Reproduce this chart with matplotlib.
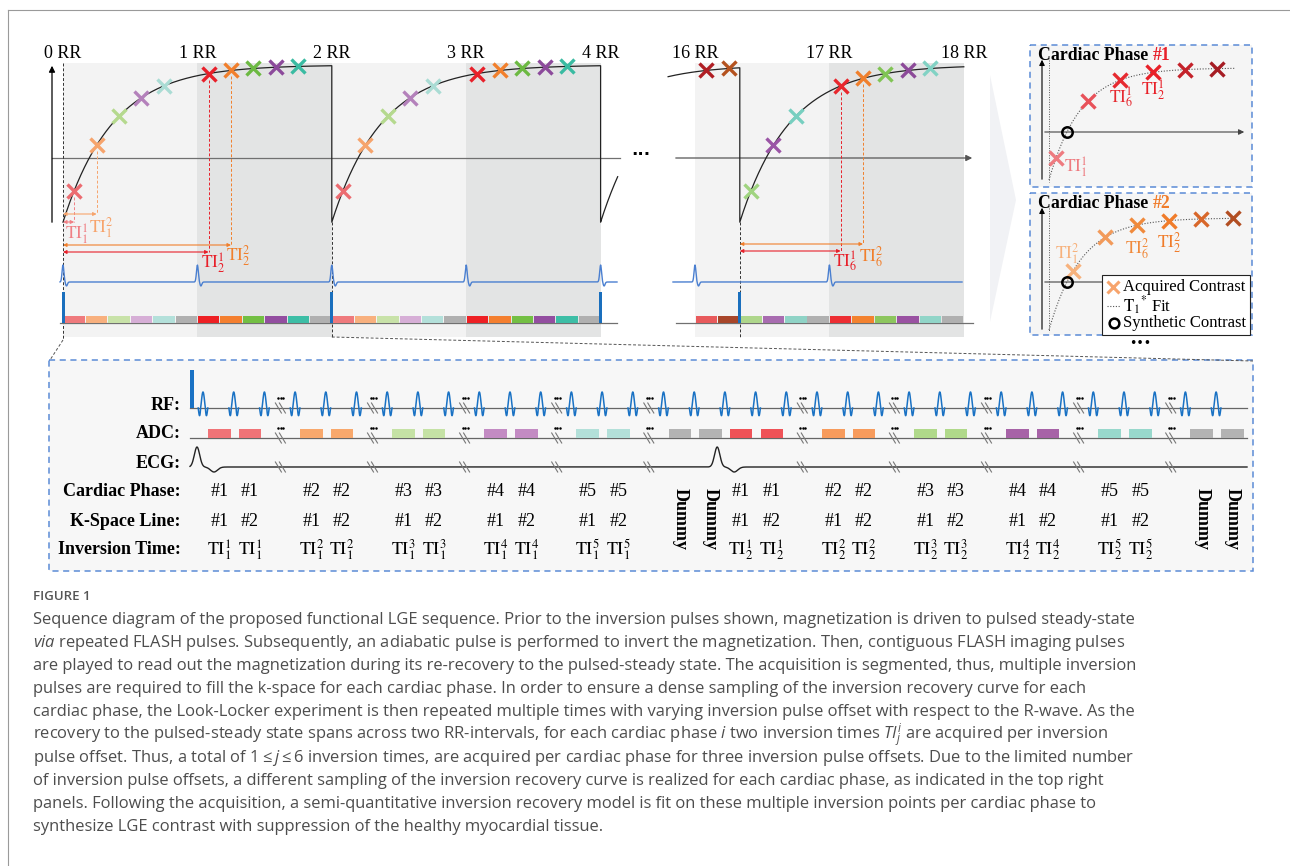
import numpy as np
import matplotlib.pyplot as plt
from matplotlib.patches import Rectangle, Polygon

plt.rcParams['mathtext.fontset'] = 'custom'
plt.rcParams['mathtext.rm'] = 'Open Sans'
plt.rcParams['mathtext.it'] = 'Open Sans:italic'
SERIF = 'Liberation Serif'

# ---------------- data ----------------
rr_ticks_a = [0, 1, 2, 3, 4]
rr_ticks_b = [16, 17, 18]
inversions_a = [0, 2, 4]            # RR of inversion pulses, panels 1-2
inversion_b = 16 + 2 / 6            # shifted inversion offset, panel 3
prev_inversion_b = inversion_b - 1.5

# recovery model (magnetization units)
M_SS, M_INV, T1_STAR = 1.0, -0.69, 0.372

# ADC segments, 6 per RR
adc_a = ['#ef7a7d', '#f8b07e', '#c8e2a8', '#d6aed6', '#b3e0da', '#b0b0b0',
         '#ee2024', '#f47f2f', '#73bf43', '#934ea0', '#3dbea6', '#b0b0b0']
adc_b = ['#e85a5c', '#a8462a', '#aed68b', '#a86cb0', '#8fd3c6', '#b0b0b0',
         '#ed2e33', '#f3822f', '#8dc65e', '#9a52a2', '#91d5c8', '#b0b0b0']
mark_a = ['#ec6b70', '#f6a46c', '#b5d98e', '#b481bb', '#aadcd4', None,
          '#e8202a', '#f17f2c', '#6cb942', '#8c4a9b', '#3abba2', None]
mark_b = ['#b01e24', '#b4521f', '#a0d480', '#9b55a6', '#77cfc0', None,
          '#e8272d', '#f07f2c', '#80c454', '#8c4a99', '#82d2c4', None]

# inversion-time arrows: (panel, segment index, label, colour)
ti_arrows = [('a', 0, r'$\mathrm{TI}_1^1$', '#f08085'),
             ('a', 1, r'$\mathrm{TI}_1^2$', '#f7a46c'),
             ('a', 6, r'$\mathrm{TI}_2^1$', '#e8202a'),
             ('a', 7, r'$\mathrm{TI}_2^2$', '#f17f2c'),
             ('b', 6, r'$\mathrm{TI}_6^1$', '#e8202a'),
             ('b', 7, r'$\mathrm{TI}_6^2$', '#f17f2c')]

# cardiac phase insets
INSET_M_INV = -0.75
phase1_t = [0.22, 1.22, 2.22, 3.25, 4.25, 5.25]
phase1_c = ['#ee7b80', '#e8525a', '#e62a30', '#e82028', '#c4222a', '#a61d24']
phase1_lab = {0: r'$\mathrm{TI}_1^1$', 2: r'$\mathrm{TI}_6^1$', 3: r'$\mathrm{TI}_2^1$'}
phase2_t = [0.75, 1.75, 2.75, 3.75, 4.75, 5.75]
phase2_c = ['#f7b27d', '#f29a5a', '#f08a3c', '#f07c2a', '#d8672a', '#b24e22']
phase2_lab = {0: r'$\mathrm{TI}_1^2$', 2: r'$\mathrm{TI}_6^2$', 3: r'$\mathrm{TI}_2^2$'}

# sequence diagram groups
seq_kind = ['ph'] * 5 + ['dummy'] + ['ph'] * 5 + ['dummy']
seq_phase = [1, 2, 3, 4, 5, None, 1, 2, 3, 4, 5, None]
seq_rr = [1] * 6 + [2] * 6
seq_col = ['#f07377', '#f8a86c', '#c5e2a5', '#c38bc3', '#b3e0d9', '#b3b3b3',
           '#ef5257', '#f79b5c', '#b0d98a', '#a763a7', '#98d8cc', '#b3b3b3']
row_labels = ['RF:', 'ADC:', 'ECG:', 'Cardiac Phase:', 'K-Space Line:', 'Inversion Time:']

caption = [
    "Sequence diagram of the proposed functional LGE sequence. Prior to the inversion pulses shown, magnetization is driven to pulsed steady-state",
    r"$\mathit{via}$ repeated FLASH pulses. Subsequently, an adiabatic pulse is performed to invert the magnetization. Then, contiguous FLASH imaging pulses",
    "are played to read out the magnetization during its re-recovery to the pulsed-steady state. The acquisition is segmented, thus, multiple inversion",
    "pulses are required to fill the k-space for each cardiac phase. In order to ensure a dense sampling of the inversion recovery curve for each",
    "cardiac phase, the Look-Locker experiment is then repeated multiple times with varying inversion pulse offset with respect to the R-wave. As the",
    r"recovery to the pulsed-steady state spans across two RR-intervals, for each cardiac phase $i$ two inversion times $TI^i_j$ are acquired per inversion",
    r"pulse offset. Thus, a total of $1 \leq j \leq 6$ inversion times, are acquired per cardiac phase for three inversion pulse offsets. Due to the limited number",
    "of inversion pulse offsets, a different sampling of the inversion recovery curve is realized for each cardiac phase, as indicated in the top right",
    "panels. Following the acquisition, a semi-quantitative inversion recovery model is fit on these multiple inversion points per cardiac phase to",
    "synthesize LGE contrast with suppression of the healthy myocardial tissue.",
]

# ---------------- layout (pixels) ----------------
X0A, X0B, RR_PX = 63.0, 695.0, 134.4
SEG = RR_PX / 6
Y_ZERO, M_PX = 158.0, 93.0
BG_TOP, BG_BOT = 63, 337
ECG_Y, ADC_Y = 282, 323

fig = plt.figure(figsize=(12.9, 8.66), dpi=100)
ax = fig.add_axes([0, 0, 1, 1])
ax.set_xlim(0, 1290)
ax.set_ylim(866, 0)
ax.axis('off')


def tx(rr, x0, r0):
    return x0 + (rr - r0) * RR_PX


def my(m):
    return Y_ZERO - m * M_PX


def recovery(t, m0=M_INV):
    return M_SS - (M_SS - m0) * np.exp(-t / T1_STAR)


def xmark(x, y, c, ms=9.8, mew=2.4, z=6):
    ax.plot(x, y, marker='x', color=c, ms=ms, mew=mew, zorder=z, ls='none')


def ecg(xa, xb, beats, base, amp=17, w=1.3):
    xs = np.linspace(xa, xb, 1500)
    ys = np.full_like(xs, base)
    for xr in beats:
        ys += -amp * np.exp(-((xs - xr) / w) ** 2) + 4 * np.exp(-((xs - xr - 3.5) / w) ** 2)
    ax.plot(xs, ys, color='#4a7fd0', lw=1.0, zorder=4)


# outer frame
ax.plot([8, 8], [10, 866], color='#9a9a9a', lw=0.8)
ax.plot([8, 1290], [10, 10], color='#9a9a9a', lw=0.8)

# -------- top panels: backgrounds --------
for x0, r0, rrs in [(X0A, 0, rr_ticks_a), (X0B, 16, rr_ticks_b)]:
    for i, r in enumerate(rrs[:-1]):
        c = '#f3f3f3' if (r - r0) % 2 == 0 else '#e3e4e4'
        ax.add_patch(Rectangle((tx(r, x0, r0), BG_TOP), RR_PX, BG_BOT - BG_TOP, fc=c, ec='none', zorder=0))
    for r in rrs:
        ax.text(tx(r, x0, r0), 53, f'{r} RR', family=SERIF, fontsize=13, ha='center', va='center')

# axes of panel 1 and 3
ax.annotate('', xy=(52, 63), xytext=(52, 225), arrowprops=dict(arrowstyle='-|>', color='k', lw=0.9, mutation_scale=9))
ax.plot([52, 620], [Y_ZERO, Y_ZERO], color='#707070', lw=0.9, zorder=1)
ax.annotate('', xy=(975, Y_ZERO), xytext=(673, Y_ZERO), arrowprops=dict(arrowstyle='-|>', color='#555', lw=0.9, mutation_scale=9), zorder=1)
ax.text(641, Y_ZERO - 3, '···', fontsize=12, fontweight='bold', ha='center', va='center')

# recovery curves, panel 1-2
xs_all, ys_all = [], []
for inv in inversions_a:
    end = min(inv + 2, 4.127)
    t = np.linspace(0, end - inv, 300)
    xs_all.append(tx(inv + t, X0A, 0))
    ys_all.append(my(recovery(t)))
ax.plot(np.concatenate(xs_all), np.concatenate(ys_all), color='#222', lw=0.9, zorder=3)
# panel 3
t1 = np.linspace(15.8, inversion_b, 100)
t2 = np.linspace(inversion_b, 18, 300)
ax.plot(np.concatenate([tx(t1, X0B, 16), tx(t2, X0B, 16)]),
        np.concatenate([my(recovery(t1 - prev_inversion_b)), my(recovery(t2 - inversion_b))]),
        color='#222', lw=0.9, zorder=3)

# dashed guide lines at inversions
ax.plot([X0A, X0A], [BG_TOP, 340], color='#333', lw=0.7, ls=(0, (3, 2)), zorder=2)
xb2 = tx(2, X0A, 0)
ax.plot([xb2, xb2], [my(M_INV), BG_BOT], color='#333', lw=0.7, ls=(0, (3, 2)), zorder=2)
xib = tx(inversion_b, X0B, 16)
ax.plot([xib, xib], [my(M_INV), BG_BOT], color='#333', lw=0.7, ls=(0, (3, 2)), zorder=2)

# markers
for c0 in [0, 2]:
    for k, c in enumerate(mark_a):
        if c:
            rr = c0 + (k + 0.5) / 6
            xmark(tx(rr, X0A, 0), my(recovery(rr - c0)), c)
for k, c in enumerate(mark_b):
    if c:
        rr = 16 + (k + 0.5) / 6
        t = rr - (prev_inversion_b if rr < inversion_b else inversion_b)
        xmark(tx(rr, X0B, 16), my(recovery(t)), c)

# inversion-time arrows
arrow_y = {0: 222, 1: 214, 6: 252, 7: 245}
lab_pos = {('a', 0): (65, 234), ('a', 1): (89, 228), ('a', 6): (201, 263), ('a', 7): (226, 256),
           ('b', 6): (833, 262), ('b', 7): (859, 257)}
for panel, k, lab, c in ti_arrows:
    if panel == 'a':
        x_inv, rr = X0A, (k + 0.5) / 6
        xm, ym = tx(rr, X0A, 0), my(recovery(rr))
    else:
        x_inv = xib
        rr = 16 + (k + 0.5) / 6
        xm, ym = tx(rr, X0B, 16), my(recovery(rr - inversion_b))
    ya = arrow_y[k] - (1 if panel == 'b' else 0)
    ax.plot([xm, xm], [ym + 6, ya], color=c, lw=0.7, ls=(0, (3, 2)), zorder=2)
    ax.annotate('', xy=(xm, ya), xytext=(x_inv, ya),
                arrowprops=dict(arrowstyle='<|-|>', color=c, lw=0.8, mutation_scale=5,
                                shrinkA=0, shrinkB=0), zorder=4)
    lx, ly = lab_pos[(panel, k)]
    ax.text(lx, ly, lab, color=c, fontsize=12.5, math_fontfamily='stix',
            ha='left', va='center', zorder=5)

# ECG traces
ecg(60, 617, [tx(r, X0A, 0) for r in rr_ticks_a], ECG_Y)
ecg(673, 962, [tx(r, X0B, 16) for r in rr_ticks_b[:-1]], ECG_Y)

# ADC blocks
ax.plot([60, 617], [ADC_Y, ADC_Y], color='#707070', lw=0.9, zorder=2)
ax.plot([676, 973], [ADC_Y, ADC_Y], color='#707070', lw=0.9, zorder=2)
for i in range(24):
    ax.add_patch(Rectangle((tx(i / 6, X0A, 0) + 0.5, 315.5), SEG - 1, 7.5, fc=adc_a[i % 12], ec='none', zorder=3))
for i in range(12):
    ax.add_patch(Rectangle((tx(16 + i / 6, X0B, 16) + 0.5, 315.5), SEG - 1, 7.5, fc=adc_b[i], ec='none', zorder=3))
for x in [tx(r, X0A, 0) for r in inversions_a] + [xib]:
    ax.add_patch(Rectangle((x - 1.5, 292), 3, ADC_Y - 292, fc='#1a6fbd', ec='none', zorder=4))

# transition arrow shape
ax.add_patch(Polygon([(990, 75), (1016, 200), (990, 322)], closed=True, fc='#f1f2f5', ec='none', zorder=0))

# connectors to sequence box
ax.plot([X0A, 50], [340, 360], color='#555', lw=0.7, ls=(0, (3, 2)))
ax.plot([xb2, 1253], [BG_BOT, 361], color='#555', lw=0.7, ls=(0, (3, 2)))


# -------- cardiac phase insets --------
def inset(ytop, y_zero, ts, cols, labs, title, tcol, lab_pos):
    ax.add_patch(Rectangle((1030, ytop), 222, 142, fc='#f5f5f5', ec='#5b8bd6', lw=1.1,
                           ls=(0, (4, 3)), zorder=1))
    head = ax.text(1038, ytop + 11, 'Cardiac Phase', family=SERIF, fontweight='bold',
                   fontsize=12.8, va='center')
    ax.annotate(title, xy=(1, 0.5), xycoords=head, xytext=(3.5, 0), textcoords='offset points',
                family=SERIF, fontweight='bold', fontsize=12.8, va='center', ha='left', color=tcol)
    ax.annotate('', xy=(1042, ytop + 12), xytext=(1042, y_zero + 50),
                arrowprops=dict(arrowstyle='-|>', color='k', lw=0.8, mutation_scale=8), zorder=2)
    ax.annotate('', xy=(1247, y_zero), xytext=(1042, y_zero),
                arrowprops=dict(arrowstyle='-|>', color='#444', lw=0.8, mutation_scale=8), zorder=2)
    ax.plot([1049, 1049], [ytop + 15, y_zero + 50], color='#555', lw=0.7, ls=(0, (1, 1.5)), zorder=2)
    t = np.linspace(0, 5.8, 200)
    ax.plot(1049 + 32 * t, y_zero - 64 * (1 - (1 - INSET_M_INV) * np.exp(-t)),
            color='#555', lw=0.8, ls=(0, (1, 1.5)), zorder=2)
    for i, (ti, c) in enumerate(zip(ts, cols)):
        xm = 1049 + 32 * ti
        ym = y_zero - 64 * (1 - (1 - INSET_M_INV) * np.exp(-ti))
        xmark(xm, ym, c)
        if i in labs:
            dx, dy = lab_pos[i]
            ax.text(xm + dx, ym + dy, labs[i], color=c, fontsize=12.5, math_fontfamily='stix',
                    ha='center', va='center', zorder=5)
    tc = np.log(1 - INSET_M_INV)
    ax.plot(1049 + 32 * tc, y_zero, marker='o', mfc='none', mec='k', ms=7.5, mew=1.8, zorder=7)


inset(45, 132, phase1_t, phase1_c, phase1_lab, '#1', '#e8202a',
      {0: (20, 9), 2: (1, 18), 3: (0, 18)})
inset(193, 282, phase2_t, phase2_c, phase2_lab, '#2', '#f07c2a',
      {0: (-6, -17), 2: (0, 23), 3: (0, 22)})

# legend of inset 2
ax.add_patch(Rectangle((1102, 275), 148, 60, fc='white', ec='#222', lw=0.8, zorder=8))
xmark(1113, 287, '#f7a46c', ms=8, mew=2.2, z=9)
ax.plot([1107, 1120], [306, 306], color='#555', lw=0.8, ls=(0, (1, 1.5)), zorder=9)
ax.plot(1114, 323, marker='o', mfc='none', mec='k', ms=7, mew=1.8, zorder=9)
for yy, s in [(287, 'Acquired Contrast'), (306, r'$\mathrm{T}_1{}^{*}$ Fit'), (323, 'Synthetic Contrast')]:
    ax.text(1123, yy, s, family=SERIF, fontsize=12, va='center', math_fontfamily='stix', zorder=9)
ax.text(1140, 343, '•••', fontsize=9, ha='center', va='center')

# -------- sequence diagram --------
RF_Y, ADC2_Y, ECG2_Y = 408, 438, 467
ROW_Y = [405, 434, 463, 492, 521, 550]
SLOT, XS0 = 30.7, 203.0
ax.add_patch(Rectangle((49, 360), 1204, 211, fc='#f7f7f7', ec='#5b8bd6', lw=1.1, ls=(0, (4, 3)), zorder=0))
for yy, s in zip(ROW_Y, row_labels):
    ax.text(181, yy, s, family=SERIF, fontweight='bold', fontsize=13, ha='right', va='center')

ax.plot([190, 1247], [RF_Y, RF_Y], color='#666', lw=0.9, zorder=2)
ax.plot([190, 1247], [ADC2_Y, ADC2_Y], color='#666', lw=0.9, zorder=2)
ax.add_patch(Rectangle((190, 370), 4, RF_Y - 370, fc='#1a72c4', ec='none', zorder=4))

u = np.linspace(-4.8, 4.8, 80)
shape = np.sinc(u / 2.4)
shape = np.where(shape < 0, shape * 2.2, shape)

pulses, breaks, beats = [], [], [191 + 6]
x = XS0
for g, kind in enumerate(seq_kind):
    nslot = 3 if kind == 'ph' else 2
    for s in range(nslot):
        pulses.append(x + s * SLOT)
    for s in range(2):
        xb0 = x + s * SLOT + 5
        ax.add_patch(Rectangle((xb0, 429), 22.5, ADC2_Y - 429, fc=seq_col[g], ec='none', zorder=3))
        xc = xb0 + 11.25
        if kind == 'ph':
            ax.text(xc, ROW_Y[3], f'#{seq_phase[g]}', family=SERIF, fontsize=13, ha='center', va='center')
            ax.text(xc, ROW_Y[4], f'#{s + 1}', family=SERIF, fontsize=13, ha='center', va='center')
            ax.text(xc, ROW_Y[5], r'$\mathrm{TI}_{%d}^{%d}$' % (seq_rr[g], seq_phase[g]),
                    fontsize=13, math_fontfamily='stix', ha='center', va='center')
        else:
            ax.text(xc, 519, 'Dummy', family=SERIF, fontweight='bold', fontsize=13,
                    rotation=-90, ha='center', va='center')
    if kind == 'ph':
        breaks.append(x + 2 * SLOT + 16)
    if kind == 'dummy' and g < len(seq_kind) - 1:
        beats.append(x + SLOT + 23)
    x += nslot * SLOT

for xp in pulses:
    ax.plot(xp + u, RF_Y - 16 * shape, color='#1a72c4', lw=1.1, zorder=4)

for xb in breaks:
    for yb, dots in [(RF_Y, True), (ADC2_Y, True), (ECG2_Y, False)]:
        for off in (0, 4):
            ax.plot([xb - 5 + off, xb + 1 + off], [yb - 5, yb + 5], color='#777', lw=0.8, zorder=5)
        if dots:
            ax.plot([xb - 2, xb + 0.5, xb + 3], [yb - 10] * 3, 'k.', ms=1.6, zorder=5)

xs = np.linspace(190, 1247, 3000)
ys = np.full_like(xs, ECG2_Y)
for xr in beats:
    ys += -20 * np.exp(-((xs - xr) / 3.8) ** 2) + 5 * np.exp(-((xs - xr - 17) / 5) ** 2)
ax.plot(xs, ys, color='#222', lw=1.0, zorder=4)

# -------- caption --------
ax.text(33, 597, 'FIGURE 1', family='Open Sans', fontweight='semibold', fontsize=9.5, color='#555', va='center')
for i, line in enumerate(caption):
    ax.text(33, 620 + 23 * i, line, family='Open Sans', fontsize=11.85, color='#4d4d4d', va='center')

plt.savefig('out.png', dpi=100)
